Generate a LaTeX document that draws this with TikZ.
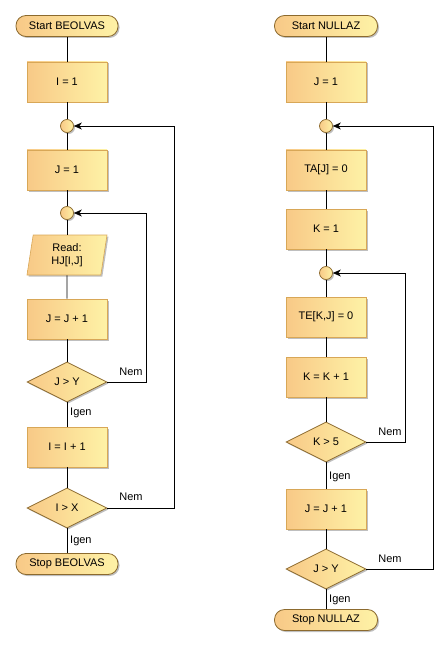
\documentclass[tikz,border=0pt]{standalone}
\usepackage{fontspec}
\setmainfont{Liberation Sans}
\usetikzlibrary{shapes.geometric,arrows.meta,shadows}
\definecolor{fillL}{HTML}{F8C987}
\definecolor{fillR}{HTML}{FEF2A6}
\definecolor{boxline}{HTML}{D8A757}
\definecolor{darkline}{HTML}{8C6A2E}
\tikzset{
  base/.style={left color=fillL,right color=fillR,font=\fontsize{11}{12.5}\selectfont,
    inner sep=1pt,align=center,
    drop shadow={shadow xshift=1.5pt,shadow yshift=-1.5pt,opacity=0.25,fill=black}},
  stepbox/.style={base,rectangle,draw=boxline,line width=0.6pt,minimum width=80pt,minimum height=40pt},
  termbox/.style={base,rectangle,rounded corners=10pt,draw=darkline,line width=0.8pt,minimum height=21pt},
  decbox/.style={base,diamond,draw=darkline,line width=0.8pt,minimum width=80pt,minimum height=40pt,aspect=2},
  iobox/.style={base,trapezium,trapezium left angle=76,trapezium right angle=104,trapezium stretches body,
    draw=boxline,line width=0.6pt,minimum width=80pt,minimum height=40pt},
  joinpt/.style={base,circle,draw=darkline,line width=0.7pt,minimum size=13pt,inner sep=0pt},
  conn/.style={line width=0.7pt,black},
  back/.style={conn,-{Stealth[length=8pt,width=7pt,inset=2.5pt]}},
  lbl/.style={font=\fontsize{11}{12.5}\selectfont,inner sep=0pt}
}
\begin{document}
\begin{tikzpicture}[x=1pt,y=-1pt]
\useasboundingbox (0,0) rectangle (447,647);
% left column
\node[termbox,minimum width=102pt] (s1) at (67,26) {Start BEOLVAS};
\node[stepbox] (a1) at (67,82) {I = 1};
\node[joinpt] (c1) at (67,126) {};
\node[stepbox] (a2) at (67,170) {J = 1};
\node[joinpt] (c2) at (67,213) {};
\node[iobox] (r1) at (67,255) {Read:\\HJ[I,J]};
\node[stepbox] (a3) at (67,319) {J = J + 1};
\node[decbox] (d1) at (67,382) {J > Y};
\node[stepbox] (a4) at (67,447) {I = I + 1};
\node[decbox] (d2) at (67,508) {I > X};
\node[termbox,minimum width=102pt] (e1) at (67,564) {Stop BEOLVAS};
\draw[conn] (s1) -- (a1);
\draw[conn] (a1) -- (c1);
\draw[conn] (c1) -- (a2);
\draw[conn] (a2) -- (c2);
\draw[conn] (c2) -- (r1);
\draw[conn] (r1) -- (a3);
\draw[conn] (a3) -- (d1);
\draw[conn] (d1) -- (a4);
\draw[conn] (a4) -- (d2);
\draw[conn] (d2) -- (e1);
\coordinate (l1a) at (146,382);
\coordinate (l1b) at (146,213);
\draw[back] (d1.east) -- (l1a) -- (l1b) -- (c2.east);
\coordinate (l2a) at (174,508);
\coordinate (l2b) at (174,126);
\draw[back] (d2.east) -- (l2a) -- (l2b) -- (c1.east);
\node[lbl] (n1) at (131,372) {Nem};
\node[lbl] (n2) at (131,497) {Nem};
\node[lbl,anchor=west] (g1) at (70,413) {Igen};
\node[lbl,anchor=west] (g2) at (70,541) {Igen};
% right column
\node[termbox,minimum width=103pt] (s2) at (326,26) {Start NULLAZ};
\node[stepbox] (b1) at (326,82) {J = 1};
\node[joinpt] (c3) at (326,126) {};
\node[stepbox] (b2) at (326,170) {TA[J] = 0};
\node[stepbox] (b3) at (326,229) {K = 1};
\node[joinpt] (c4) at (326,273) {};
\node[stepbox] (b4) at (326,317) {TE[K,J] = 0};
\node[stepbox] (b5) at (326,377) {K = K + 1};
\node[decbox] (d3) at (326,442) {K > 5};
\node[stepbox] (b6) at (326,509) {J = J + 1};
\node[decbox] (d4) at (326,569) {J > Y};
\node[termbox,minimum width=103pt] (e2) at (326,620) {Stop NULLAZ};
\draw[conn] (s2) -- (b1);
\draw[conn] (b1) -- (c3);
\draw[conn] (c3) -- (b2);
\draw[conn] (b2) -- (b3);
\draw[conn] (b3) -- (c4);
\draw[conn] (c4) -- (b4);
\draw[conn] (b4) -- (b5);
\draw[conn] (b5) -- (d3);
\draw[conn] (d3) -- (b6);
\draw[conn] (b6) -- (d4);
\draw[conn] (d4) -- (e2);
\coordinate (l3a) at (405,442);
\coordinate (l3b) at (405,273);
\draw[back] (d3.east) -- (l3a) -- (l3b) -- (c4.east);
\coordinate (l4a) at (433,569);
\coordinate (l4b) at (433,126);
\draw[back] (d4.east) -- (l4a) -- (l4b) -- (c3.east);
\node[lbl] (n3) at (390,432) {Nem};
\node[lbl] (n4) at (390,559) {Nem};
\node[lbl,anchor=west] (g3) at (329,477) {Igen};
\node[lbl,anchor=west] (g4) at (329,600) {Igen};
\end{tikzpicture}
\end{document}
